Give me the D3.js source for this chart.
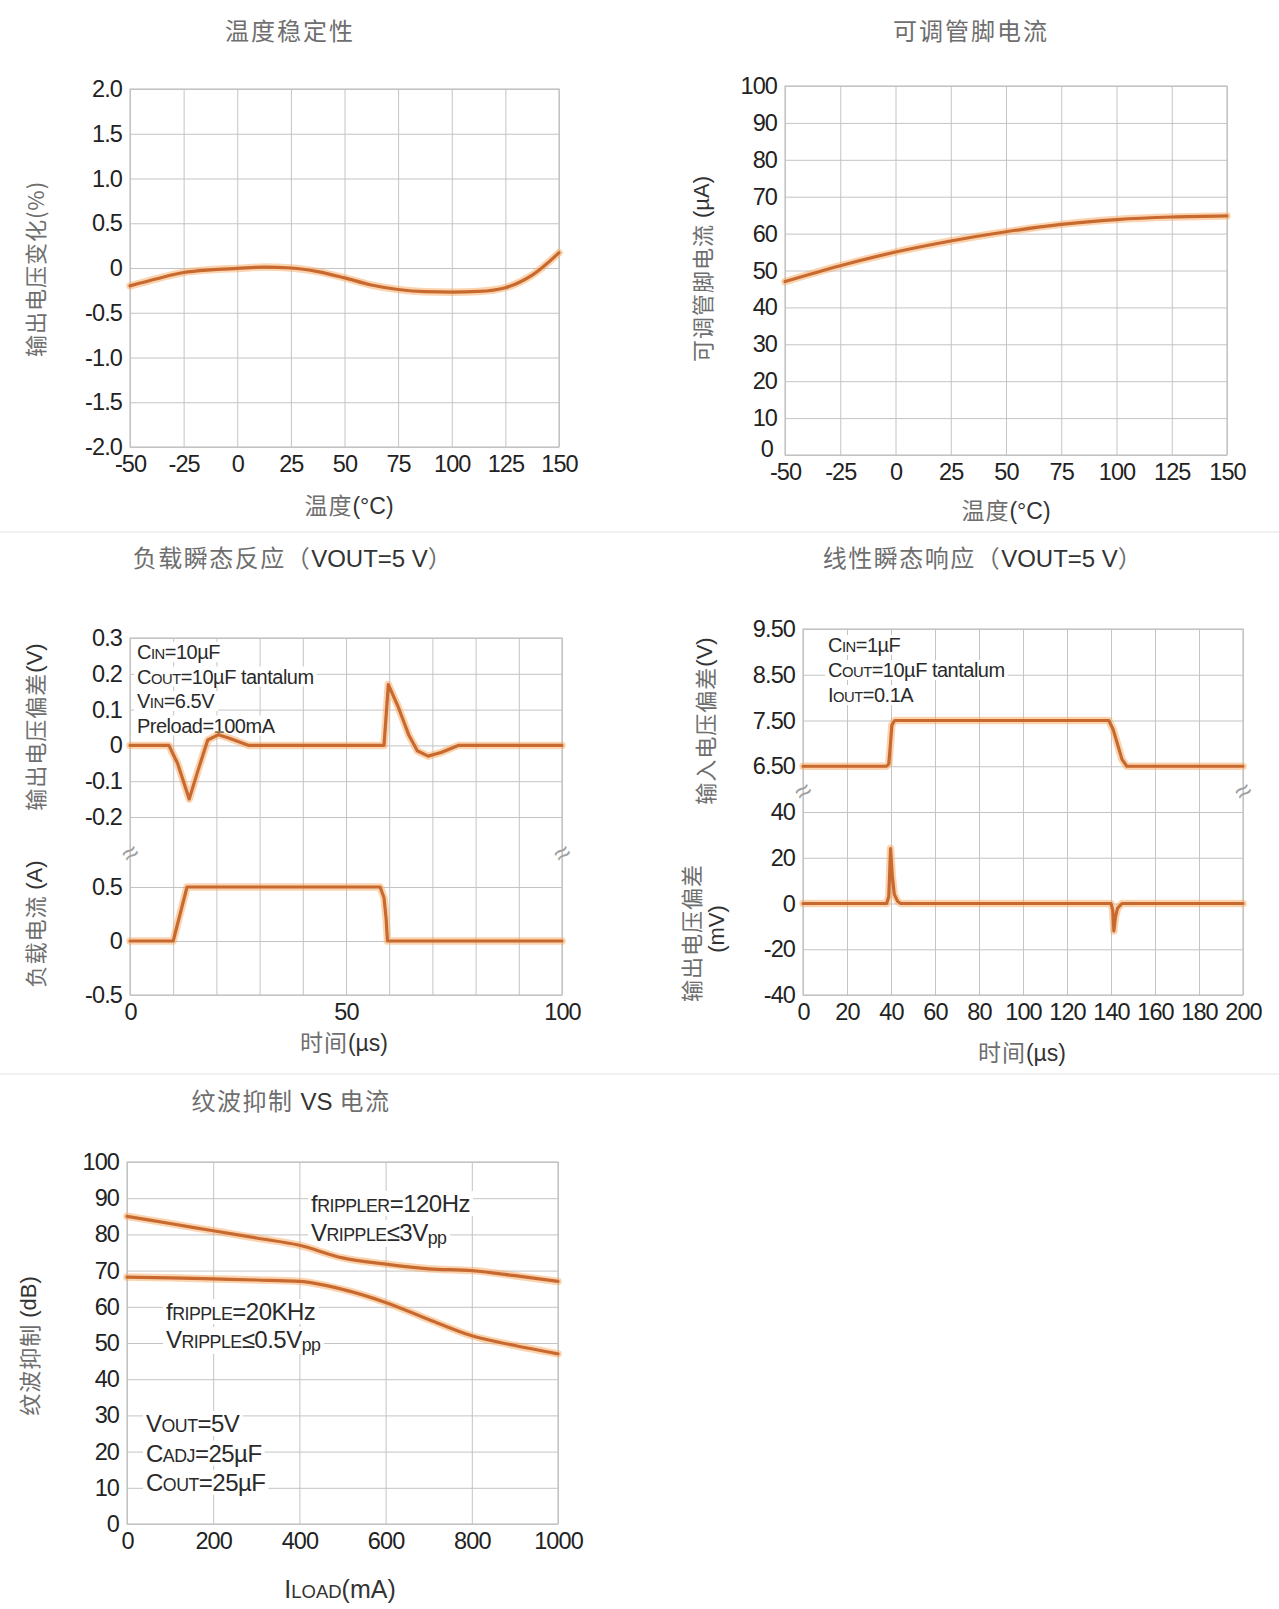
<!DOCTYPE html>
<html>
<head>
<meta charset="utf-8">
<script src="https://cdn.jsdelivr.net/npm/d3@7/dist/d3.min.js"></script>
<style>
  body { margin: 0; background: #fff; }
  svg text { font-family: "Liberation Sans", Arial, sans-serif; }
</style>
</head>
<body>
<svg id="chart" width="1279" height="1609"></svg>
<script>
// ---- data ----
// 温度稳定性
const stabTemp = [-50, -37.5, -25, -12.5, 0, 12.5, 25, 37.5, 50, 62.5, 75, 87.5, 100, 112.5, 125, 137.5, 150];
const stabVout = [-0.2, -0.12, -0.05, -0.02, -0.005, 0.01, 0, -0.04, -0.11, -0.19, -0.24, -0.265, -0.27, -0.262, -0.22, -0.08, 0.17];
// 可调管脚电流
const adjTemp = [-50, -25, 0, 25, 50, 75, 100, 125, 150];
const adjCurrent = [47, 51.3, 55, 58, 60.5, 62.5, 63.8, 64.5, 64.8];
// 负载瞬态反应
const loadT = [0, 9, 11, 13.7, 16, 18, 20.5, 23, 27.5, 58.8, 59.8, 62, 64.5, 66.5, 69, 72, 76, 100];
const loadDev = [0, 0, -0.05, -0.15, -0.06, 0.015, 0.03, 0.02, 0, 0, 0.17, 0.11, 0.03, -0.015, -0.03, -0.02, 0, 0];
const loadStepT = [0, 10, 13.2, 57.9, 58.8, 59.3, 59.6, 100];
const loadStepI = [0, 0, 0.5, 0.5, 0.4, 0.2, 0, 0];
// 线性瞬态响应
const lineT = [0, 38, 39, 39.6, 40.4, 41.7, 139, 141, 145, 147.2, 200];
const lineVin = [6.5, 6.5, 6.55, 6.9, 7.4, 7.5, 7.5, 7.3, 6.65, 6.5, 6.5];
const lineDevT = [0, 38, 39, 39.8, 40.6, 41.5, 43, 44.4, 140, 140.8, 141.3, 142, 143, 145, 200];
const lineDev = [0, 0, 3, 24, 12, 4, 1, 0, 0, -3, -12, -6, -2, 0, 0];
// 纹波抑制 VS 电流
const iLoad = [0, 100, 200, 300, 400, 500, 600, 700, 800, 900, 1000];
const psrr120 = [85, 83, 81, 79, 77, 73.5, 71.8, 70.5, 70, 68.6, 67];
const psrr20k = [68.2, 68, 67.7, 67.4, 67, 64.8, 61.2, 56.5, 52, 49.3, 47];

// tick values
const tempTicks = d3.range(-50, 151, 25);
const stabTicks = d3.range(-2, 2.01, 0.5);
const pctTicks = d3.range(0, 101, 10);
const loadTimeTicks = d3.range(0, 101, 10);
const devTicks = [-0.2, -0.1, 0, 0.1, 0.2, 0.3];
const ampTicks = [-0.5, 0, 0.5];
const lineTimeTicks = d3.range(0, 201, 20);
const vinTicks = [6.5, 7.5, 8.5, 9.5];
const mvTicks = [-40, -20, 0, 20, 40];
const iLoadTicks = d3.range(0, 1001, 200);

const svg = d3.select('#chart');
const gridColor = '#c4c4c4';
const cjkColor = '#6e6e6e';
const latinColor = '#333';
const tickSize = 23.5;

// faint separators between the chart blocks
[532, 1074].forEach(y => {
    svg.append('line').attr('x1', 0).attr('x2', 1279).attr('y1', y).attr('y2', y)
        .attr('stroke', '#ececec').attr('stroke-width', 1.5);
});

function fmtNum(dec){
    return d => Math.abs(d) < 1e-9 ? '0' : d.toFixed(dec);
}

function drawGrid(g, x, top, bottom, xTicks, xFmt, ys){
    const left = x.range()[0], right = x.range()[1];
    g.append('g')
        .attr('transform', `translate(0,${bottom})`)
        .call(d3.axisBottom(x).tickValues(xTicks).tickSize(-(bottom - top)).tickPadding(8).tickFormat(xFmt));
    ys.forEach(a => {
        g.append('g')
            .attr('class', 'yax')
            .attr('transform', `translate(${left},0)`)
            .call(d3.axisLeft(a.scale).tickValues(a.ticks).tickSize(-(right - left)).tickPadding(8).tickFormat(a.fmt));
    });
    g.selectAll('.domain').remove();
    g.selectAll('.tick line').attr('stroke', gridColor).attr('stroke-width', 1);
    g.selectAll('.tick text').attr('fill', '#222').attr('font-size', tickSize).attr('letter-spacing', -0.9);
    g.selectAll('g').attr('font-size', tickSize).attr('font-family', null);
    g.append('rect')
        .attr('x', left).attr('y', top)
        .attr('width', right - left).attr('height', bottom - top)
        .attr('fill', 'none').attr('stroke', gridColor).attr('stroke-width', 1.2);
}

function plotLine(g, xs, ys, x, y, curve){
    const pts = xs.map((d, i) => [d, ys[i]]);
    const line = d3.line().x(d => x(d[0])).y(d => y(d[1])).curve(curve || d3.curveLinear);
    g.append('path').attr('d', line(pts)).attr('fill', 'none')
        .attr('stroke', '#f8a960').attr('stroke-opacity', 0.5).attr('stroke-width', 7.5)
        .attr('stroke-linejoin', 'round').attr('stroke-linecap', 'round');
    g.append('path').attr('d', line(pts)).attr('fill', 'none')
        .attr('stroke', '#c86a2f').attr('stroke-width', 3.2)
        .attr('stroke-linejoin', 'round').attr('stroke-linecap', 'round');
}

// parts: [text, kind]  kind: 'c' cjk, 'l' latin, 's' small caps, 'p' subscript
function label(g, x, y, parts, opts){
    const size = opts.size || 21;
    const t = g.append('text')
        .attr('text-anchor', opts.anchor || 'middle')
        .attr('dominant-baseline', opts.baseline || 'auto')
        .attr('font-size', size);
    if (opts.rotate) t.attr('transform', `translate(${x},${y}) rotate(${opts.rotate})`);
    else t.attr('x', x).attr('y', y);
    parts.forEach(([s, k]) => {
        const sp = t.append('tspan').text(s);
        if (k === 'c') sp.style('font-family', '"Noto Sans CJK SC", sans-serif').attr('fill', cjkColor).attr('letter-spacing', opts.cjkSpacing || 1);
        else sp.attr('fill', opts.latinColor || latinColor);
        if (k === 's') sp.attr('font-size', size * 0.74);
        if (k === 'p') sp.attr('font-size', size * 0.74).attr('dy', size * 0.12);
    });
    return t;
}

// annotation block with white backing on each line
function annotate(g, x, y0, lh, lines, size){
    lines.forEach((parts, i) => {
        const t = label(g, x, y0 + i * lh, parts, {size: size, anchor: 'start', latinColor: '#2a2a2a'});
        t.attr('letter-spacing', -0.5);
        const b = t.node().getBBox();
        g.insert('rect', () => t.node())
            .attr('x', b.x - 3).attr('y', b.y + 1)
            .attr('width', b.width + 6).attr('height', b.height - 2)
            .attr('fill', '#fff');
    });
}

function breakMark(g, x, y){
    g.append('text').attr('x', x).attr('y', y)
        .attr('text-anchor', 'middle').attr('dominant-baseline', 'central')
        .attr('font-size', 28).attr('fill', '#a0a0a0')
        .attr('transform', `rotate(-35,${x},${y})`)
        .text('≈');
}

// ---------- 1. 温度稳定性 ----------
{
    const g = svg.append('g');
    const x = d3.scaleLinear().domain([-50, 150]).range([130, 559]);
    const y = d3.scaleLinear().domain([-2, 2]).range([447, 89]);
    drawGrid(g, x, 89, 447, tempTicks, d => String(d), [{scale: y, ticks: stabTicks, fmt: fmtNum(1)}]);
    plotLine(g, stabTemp, stabVout, x, y, d3.curveMonotoneX);
    label(g, 290, 40, [['温度稳定性', 'c']], {size: 24, cjkSpacing: 2});
    label(g, 34, 269, [['输出电压变化(%)', 'c']], {size: 22, rotate: -90, baseline: 'central'});
    label(g, 349, 514, [['温度', 'c'], ['(°C)', 'l']], {size: 23});
}

// ---------- 2. 可调管脚电流 ----------
{
    const g = svg.append('g');
    const x = d3.scaleLinear().domain([-50, 150]).range([785, 1227]);
    const y = d3.scaleLinear().domain([0, 100]).range([455, 86]);
    drawGrid(g, x, 86, 455, tempTicks, d => String(d), [{scale: y, ticks: pctTicks, fmt: d => String(d)}]);
    // the reference lifts the corner "0" clear of "-50"
    g.selectAll('.yax .tick text').filter(d => d === 0).attr('dy', '0.05em').attr('dx', -4);
    plotLine(g, adjTemp, adjCurrent, x, y, d3.curveMonotoneX);
    label(g, 971, 40, [['可调管脚电流', 'c']], {size: 24, cjkSpacing: 2});
    label(g, 701, 269, [['可调管脚电流 ', 'c'], ['(µA)', 'l']], {size: 22, rotate: -90, baseline: 'central'});
    label(g, 1006, 519, [['温度', 'c'], ['(°C)', 'l']], {size: 23});
}

// ---------- 3. 负载瞬态反应 ----------
{
    const g = svg.append('g');
    const x = d3.scaleLinear().domain([0, 100]).range([130, 562]);
    const yDev = d3.scaleLinear().domain([-0.2, 0.3]).range([817, 638]);
    const yAmp = d3.scaleLinear().domain([-0.5, 0.5]).range([995, 887]);
    drawGrid(g, x, 638, 995, loadTimeTicks, d => d % 50 === 0 ? String(d) : '', [
        {scale: yDev, ticks: devTicks, fmt: fmtNum(1)},
        {scale: yAmp, ticks: ampTicks, fmt: fmtNum(1)}
    ]);
    annotate(g, 137, 659, 24.5, [
        [['C', 'l'], ['IN', 's'], ['=10µF', 'l']],
        [['C', 'l'], ['OUT', 's'], ['=10µF tantalum', 'l']],
        [['V', 'l'], ['IN', 's'], ['=6.5V', 'l']],
        [['Preload=100mA', 'l']]
    ], 20);
    breakMark(g, 130, 853);
    breakMark(g, 562, 853);
    plotLine(g, loadT, loadDev, x, yDev);
    plotLine(g, loadStepT, loadStepI, x, yAmp);
    label(g, 293, 567, [['负载瞬态反应（', 'c'], ['VOUT=5 V', 'l'], ['）', 'c']], {size: 24, cjkSpacing: 1.5});
    label(g, 34, 727, [['输出电压偏差', 'c'], ['(V)', 'l']], {size: 22, rotate: -90, baseline: 'central'});
    label(g, 34, 924, [['负载电流 ', 'c'], ['(A)', 'l']], {size: 22, rotate: -90, baseline: 'central'});
    label(g, 344, 1051, [['时间', 'c'], ['(µs)', 'l']], {size: 23});
}

// ---------- 4. 线性瞬态响应 ----------
{
    const g = svg.append('g');
    const x = d3.scaleLinear().domain([0, 200]).range([803, 1243]);
    const yVin = d3.scaleLinear().domain([6.5, 9.5]).range([766.25, 629]);
    const yMv = d3.scaleLinear().domain([-40, 40]).range([995, 812]);
    drawGrid(g, x, 629, 995, lineTimeTicks, d => String(d), [
        {scale: yVin, ticks: vinTicks, fmt: d => d.toFixed(2)},
        {scale: yMv, ticks: mvTicks, fmt: d => String(d)}
    ]);
    annotate(g, 828, 652, 25, [
        [['C', 'l'], ['IN', 's'], ['=1µF', 'l']],
        [['C', 'l'], ['OUT', 's'], ['=10µF tantalum', 'l']],
        [['I', 'l'], ['OUT', 's'], ['=0.1A', 'l']]
    ], 20);
    breakMark(g, 803, 791);
    breakMark(g, 1243, 791);
    plotLine(g, lineT, lineVin, x, yVin);
    plotLine(g, lineDevT, lineDev, x, yMv);
    label(g, 983, 567, [['线性瞬态响应（', 'c'], ['VOUT=5 V', 'l'], ['）', 'c']], {size: 24, cjkSpacing: 1.5});
    label(g, 704, 721, [['输入电压偏差', 'c'], ['(V)', 'l']], {size: 22, rotate: -90, baseline: 'central'});
    label(g, 690, 933, [['输出电压偏差', 'c']], {size: 22, rotate: -90, baseline: 'central'});
    label(g, 716, 929, [['(mV)', 'l']], {size: 22, rotate: -90, baseline: 'central'});
    label(g, 1022, 1061, [['时间', 'c'], ['(µs)', 'l']], {size: 23});
}

// ---------- 5. 纹波抑制 VS 电流 ----------
{
    const g = svg.append('g');
    const x = d3.scaleLinear().domain([0, 1000]).range([127, 558]);
    const y = d3.scaleLinear().domain([0, 100]).range([1524, 1162]);
    drawGrid(g, x, 1162, 1524, iLoadTicks, d => String(d), [{scale: y, ticks: pctTicks, fmt: d => String(d)}]);
    annotate(g, 311, 1212, 29, [
        [['f', 'l'], ['RIPPLER', 's'], ['=120Hz', 'l']],
        [['V', 'l'], ['RIPPLE', 's'], ['≤3V', 'l'], ['pp', 'p']]
    ], 24);
    annotate(g, 166, 1320, 28, [
        [['f', 'l'], ['RIPPLE', 's'], ['=20KHz', 'l']],
        [['V', 'l'], ['RIPPLE', 's'], ['≤0.5V', 'l'], ['pp', 'p']]
    ], 24);
    annotate(g, 146, 1432, 29.5, [
        [['V', 'l'], ['OUT', 's'], ['=5V', 'l']],
        [['C', 'l'], ['ADJ', 's'], ['=25µF', 'l']],
        [['C', 'l'], ['OUT', 's'], ['=25µF', 'l']]
    ], 24);
    plotLine(g, iLoad, psrr120, x, y, d3.curveMonotoneX);
    plotLine(g, iLoad, psrr20k, x, y, d3.curveMonotoneX);
    label(g, 291, 1110, [['纹波抑制 ', 'c'], ['VS', 'l'], [' 电流', 'c']], {size: 24, cjkSpacing: 1.5});
    label(g, 28, 1346, [['纹波抑制 ', 'c'], ['(dB)', 'l']], {size: 22, rotate: -90, baseline: 'central'});
    label(g, 340, 1598, [['I', 'l'], ['LOAD', 's'], ['(mA)', 'l']], {size: 25});
}
</script>
</body>
</html>
